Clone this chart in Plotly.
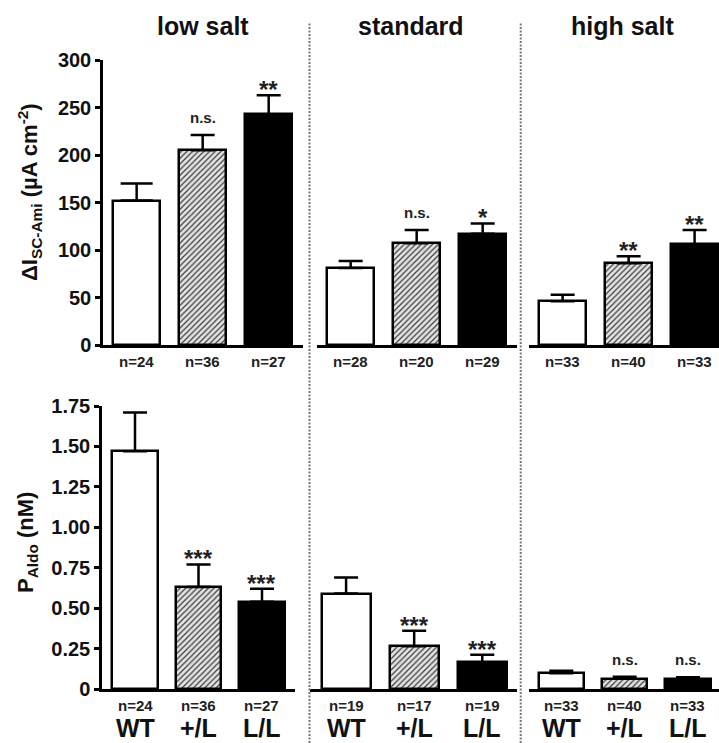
import plotly.graph_objects as go

# ---------------- data ----------------
genotypes = ["WT", "+/L", "L/L"]
diets = ["low salt", "standard", "high salt"]

isc_mean = [[152, 205, 243], [81, 107, 117], [46, 86, 106]]
isc_sem = [[18, 16, 20], [7.5, 14, 11], [7, 7.5, 15]]
isc_sig = [["", "n.s.", "**"], ["", "n.s.", "*"], ["", "**", "**"]]
isc_n = [[24, 36, 27], [28, 20, 29], [33, 40, 33]]

aldo_mean = [[1.47, 0.63, 0.54], [0.59, 0.265, 0.165], [0.098, 0.064, 0.062]]
aldo_sem = [[0.24, 0.14, 0.08], [0.10, 0.095, 0.047], [0.015, 0.012, 0.010]]
aldo_sig = [["", "***", "***"], ["", "***", "***"], ["", "n.s.", "n.s."]]
aldo_n = [[24, 36, 27], [19, 17, 19], [33, 40, 33]]

isc_ticks = [0, 50, 100, 150, 200, 250, 300]
isc_ticktext = ["0", "50", "100", "150", "200", "250", "300"]
aldo_ticks = [0, 0.25, 0.5, 0.75, 1.0, 1.25, 1.5, 1.75]
aldo_ticktext = ["0", "0.25", "0.50", "0.75", "1.00", "1.25", "1.50", "1.75"]

# ---------------- layout helpers ----------------
W, H = 719, 743
FONT = "Liberation Sans, Arial, sans-serif"


def px_x(p):
    return p / W


def px_y(p):
    return 1 - p / H


# pixel domains and ranges for each panel
top_x = [(103, 303, [-0.51, 2.52]), (317, 517, [-0.51, 2.52]), (529, 719, [-0.51, 2.37])]
bot_x = [(102, 295, [-0.52, 2.52]), (310, 517, [-0.53, 2.51]), (529, 719, [-0.51, 2.49])]
top_y = (345, 60)
bot_y = (689, 406)

styles = [
    dict(color="white", line=dict(color="black", width=2.5)),
    dict(color="#e4e4e4", line=dict(color="black", width=2.5),
         pattern=dict(shape="/", fgcolor="#3a3a3a", bgcolor="#e4e4e4", size=4, solidity=0.3)),
    dict(color="black", line=dict(color="black", width=2.5)),
]

fig = go.Figure()
annotations = []

panel = 0
for row, (means, sems, sigs, ns, xdoms, ydom, yrange, ticks, ticktext) in enumerate([
    (isc_mean, isc_sem, isc_sig, isc_n, top_x, top_y, [0, 300], isc_ticks, isc_ticktext),
    (aldo_mean, aldo_sem, aldo_sig, aldo_n, bot_x, bot_y, [0, 1.75], aldo_ticks, aldo_ticktext),
]):
    for d in range(3):
        panel += 1
        xa = "x" if panel == 1 else f"x{panel}"
        ya = "y" if panel == 1 else f"y{panel}"
        xl = "xaxis" if panel == 1 else f"xaxis{panel}"
        yl = "yaxis" if panel == 1 else f"yaxis{panel}"
        x0, x1, xr = xdoms[d]
        for g in range(3):
            capw = 16 if (row == 0 and d == 0 and g == 0) else 12
            fig.add_trace(go.Bar(
                x=[g], y=[means[d][g]], width=0.72,
                marker=styles[g],
                error_y=dict(type="data", array=[sems[d][g]], arrayminus=[0], symmetric=False,
                             color="black", thickness=2.5, width=capw),
                xaxis=xa, yaxis=ya, showlegend=False, hoverinfo="skip",
            ))
            s = sigs[d][g]
            if s:
                is_star = s.startswith("*")
                annotations.append(dict(
                    x=g, y=means[d][g] + sems[d][g], xref=xa, yref=ya,
                    text=s, showarrow=False, yanchor="bottom",
                    yshift=-10 if is_star else 7,
                    font=dict(family=FONT, size=24 if is_star else 15, color="#222", weight="bold"),
                ))
            ny = 362 if row == 0 else 705
            annotations.append(dict(
                x=g, y=px_y(ny), xref=xa, yref="paper", text=f"n={ns[d][g]}",
                showarrow=False, yanchor="middle",
                font=dict(family=FONT, size=15, color="#222", weight="bold"),
            ))
            if row == 1:
                annotations.append(dict(
                    x=g, y=px_y(728), xref=xa, yref="paper", text=genotypes[g],
                    showarrow=False, yanchor="middle",
                    font=dict(family=FONT, size=25, color="#111", weight="bold"),
                ))
        fig.layout[xl] = dict(
            domain=[px_x(x0), px_x(x1)], range=xr, anchor=ya,
            showline=True, linecolor="black", linewidth=2.5,
            showticklabels=False, ticks="", showgrid=False, zeroline=False, fixedrange=True,
        )
        if d == 0:
            fig.layout[yl] = dict(
                domain=[px_y(ydom[0]), px_y(ydom[1])], range=yrange, anchor=xa,
                showline=True, linecolor="black", linewidth=2.5,
                ticks="outside", ticklen=5, tickwidth=2.5, tickcolor="black",
                tickvals=ticks, ticktext=ticktext,
                tickfont=dict(family=FONT, size=20, color="#111", weight="bold"),
                showgrid=False, zeroline=False, fixedrange=True,
            )
        else:
            fig.layout[yl] = dict(
                domain=[px_y(ydom[0]), px_y(ydom[1])], range=yrange, anchor=xa,
                visible=False, showgrid=False, zeroline=False, fixedrange=True,
            )

title_x = [203, 411, 622]
for d in range(3):
    annotations.append(dict(
        x=px_x(title_x[d]), y=px_y(26), xref="paper", yref="paper", text=diets[d],
        showarrow=False, yanchor="middle", xanchor="center",
        font=dict(family=FONT, size=25, color="#111", weight="bold"),
    ))

annotations.append(dict(
    x=px_x(29), y=px_y(192), xref="paper", yref="paper",
    text="ΔI<sub>SC-Ami</sub> (µA cm<sup>-2</sup>)", textangle=-90,
    showarrow=False, xanchor="center", yanchor="middle",
    font=dict(family=FONT, size=22, color="#111", weight="bold"),
))
annotations.append(dict(
    x=px_x(27), y=px_y(543), xref="paper", yref="paper",
    text="P<sub>Aldo</sub> (nM)", textangle=-90,
    showarrow=False, xanchor="center", yanchor="middle",
    font=dict(family=FONT, size=22, color="#111", weight="bold"),
))

shapes = []
for sx in [309.5, 520.7]:
    shapes.append(dict(type="line", xref="paper", yref="paper",
                       x0=px_x(sx), x1=px_x(sx), y0=0, y1=px_y(22),
                       line=dict(color="#777", width=2, dash="2px,1.5px")))

fig.update_layout(
    width=W, height=H, margin=dict(l=0, r=0, t=0, b=0),
    paper_bgcolor="white", plot_bgcolor="white", template="none",
    annotations=annotations, shapes=shapes, bargap=0, showlegend=False,
)

fig.write_html("out.html",
               post_script="document.body.style.margin='0';document.body.style.overflow='hidden';",
               config={"displayModeBar": False})
